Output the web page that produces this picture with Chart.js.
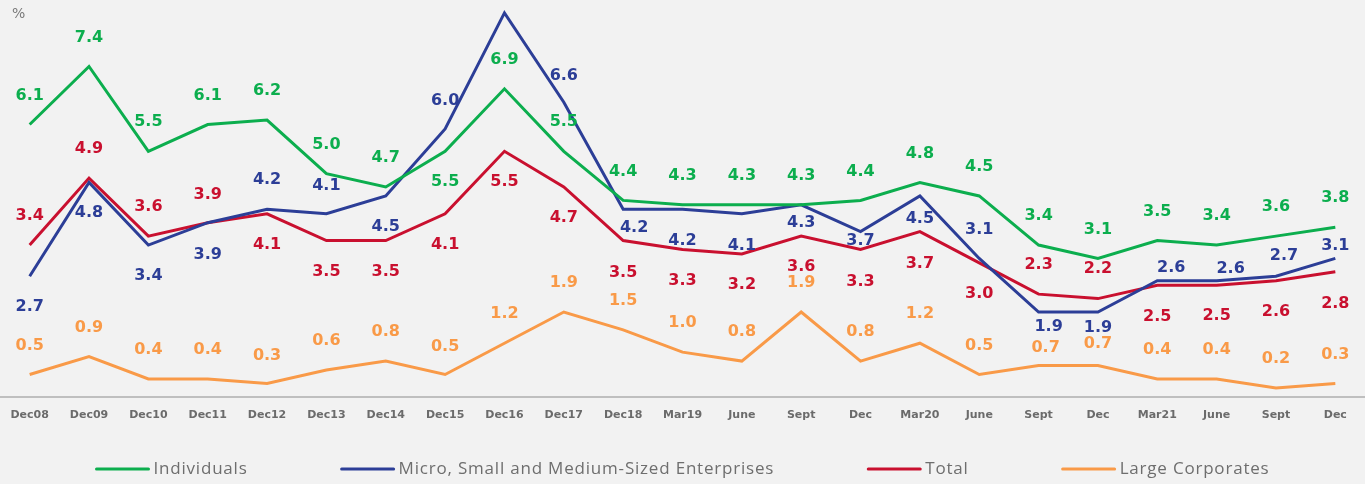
<!DOCTYPE html>
<html>
<head>
<meta charset="utf-8">
<script src="https://cdn.jsdelivr.net/npm/chart.js@4.4.1/dist/chart.umd.min.js"></script>
<style>
    html,body{margin:0;padding:0;background:#f2f2f2;}
    #wrap{width:1365px;height:484px;position:relative;}
</style>
</head>
<body>
<div id="wrap"><canvas id="rates-chart" width="1365" height="484"></canvas></div>
<script>
// data
const periods = ['Dec08','Dec09','Dec10','Dec11','Dec12','Dec13','Dec14','Dec15','Dec16','Dec17','Dec18','Mar19','June','Sept','Dec','Mar20','June','Sept','Dec','Mar21','June','Sept','Dec']
const individuals = [6.1,7.4,5.5,6.1,6.2,5.0,4.7,5.5,6.9,5.5,4.4,4.3,4.3,4.3,4.4,4.8,4.5,3.4,3.1,3.5,3.4,3.6,3.8]
const smes = [2.7,4.8,3.4,3.9,4.2,4.1,4.5,6.0,8.6,6.6,4.2,4.2,4.1,4.3,3.7,4.5,3.1,1.9,1.9,2.6,2.6,2.7,3.1]
const total = [3.4,4.9,3.6,3.9,4.1,3.5,3.5,4.1,5.5,4.7,3.5,3.3,3.2,3.6,3.3,3.7,3.0,2.3,2.2,2.5,2.5,2.6,2.8]
const corporates = [0.5,0.9,0.4,0.4,0.3,0.6,0.8,0.5,1.2,1.9,1.5,1.0,0.8,1.9,0.8,1.2,0.5,0.7,0.7,0.4,0.4,0.2,0.3]

// label placement (pixels from the point), null = no label
const ind_dy = [-29,-29,-29,-29,-29,-29,-29,31,-29,-29,-29,-29,-29,-29,-29,-29,-29,-29,-29,-29,-29,-29,-29]
const sme_dy = [31,30,31,32,-29,-28,31,-28,null,-26,19,32,32,18,9,23,-29,15,16,-13,-12,-20,-13]
const sme_dx = [0,0,0,0,0,0,0,0,0,0,11,0,0,0,0,0,0,10,0,14,14,8,0]
const tot_dy = [-29,-29,-29,-28,31,31,31,31,31,31,32,31,31,31,32,32,31,-29,-30,32,31,31,32]
const corp_dy = [-29,-29,-29,-29,-28,-29,-29,-28,-29,-29,-29,-29,-29,-29,-29,-29,-29,-18,-22,-29,-29,-29,-29]
const corp_dx = [0,0,0,0,0,0,0,0,0,0,0,0,0,0,0,0,0,7,0,0,0,0,0]

const GREEN = '#0cae4e'
const BLUE = '#2c3e97'
const RED = '#c9102f'
const ORANGE = '#f99a48'

function make_set(label,data,color,dy,dx){
    return {
        label:label,
        data:data,
        borderColor:color,
        backgroundColor:color,
        borderWidth:3,
        pointRadius:0,
        pointHoverRadius:0,
        tension:0,
        fill:false,
        label_dy:dy,
        label_dx:dx
    }
}

const value_labels = {
    id:'value_labels',
    afterDatasetsDraw(chart){
        const c = chart.ctx
        c.save()
        c.font = 'bold 16px "DejaVu Sans"'
        c.textAlign = 'center'
        c.textBaseline = 'middle'
        chart.data.datasets.forEach((ds,k)=>{
            const meta = chart.getDatasetMeta(k)
            c.fillStyle = ds.borderColor
            meta.data.forEach((pt,i)=>{
                const dy = ds.label_dy[i]
                if (dy===null) return
                const dx = ds.label_dx ? ds.label_dx[i] : 0
                c.fillText(ds.data[i].toFixed(1),pt.x+dx,pt.y+dy)
            })
        })
        // unit mark in the corner
        c.font = '14px "DejaVu Sans"'
        c.fillStyle = '#7a7a7a'
        c.textAlign = 'left'
        c.fillText('%',12,14)
        c.restore()
    }
}

// legend drawn by hand so the gaps between items can be wide
const line_legend = {
    id:'line_legend',
    afterDraw(chart){
        const c = chart.ctx
        const sets = chart.data.datasets
        const line_w = 54, gap = 4, space = 93, y = 469
        c.save()
        c.font = '17px "Open Sans"'
        c.letterSpacing = '0.8px'
        c.textBaseline = 'middle'
        let widths = sets.map(ds=>line_w+gap+c.measureText(ds.label).width)
        let full = widths.reduce((a,b)=>a+b,0)+space*(sets.length-1)
        let x = (chart.width-full)/2
        sets.forEach((ds,k)=>{
            c.strokeStyle = ds.borderColor
            c.lineWidth = 3
            c.lineCap = 'round'
            c.beginPath()
            c.moveTo(x+1,y)
            c.lineTo(x+line_w-1,y)
            c.stroke()
            c.fillStyle = '#6e6e6e'
            c.fillText(ds.label,x+line_w+gap,y)
            x += widths[k]+space
        })
        c.restore()
    }
}

function draw_chart(){
    const cfg = {
        type:'line',
        data:{
            labels:periods,
            datasets:[
                make_set('Individuals',individuals,GREEN,ind_dy),
                make_set('Micro, Small and Medium-Sized Enterprises',smes,BLUE,sme_dy,sme_dx),
                make_set('Total',total,RED,tot_dy),
                make_set('Large Corporates',corporates,ORANGE,corp_dy,corp_dx)
            ]
        },
        options:{
            responsive:false,
            animation:false,
            layout:{padding:{top:4,left:-3,right:0,bottom:62}},
            scales:{
                x:{
                    offset:true,
                    grid:{display:false,drawTicks:true,tickLength:12},
                    border:{display:true,color:'#bfbfbf',width:2},
                    ticks:{
                        color:'#6b6b6b',
                        padding:0,
                        maxRotation:0,
                        autoSkip:false,
                        font:{family:'"DejaVu Sans"',weight:'bold',size:11}
                    }
                },
                y:{
                    display:false,
                    min:0,
                    max:8.8
                }
            },
            plugins:{
                legend:{display:false},
                tooltip:{enabled:false}
            }
        },
        plugins:[value_labels,line_legend]
    }
    new Chart(document.getElementById('rates-chart'),cfg)
}

draw_chart()
</script>
</body>
</html>
